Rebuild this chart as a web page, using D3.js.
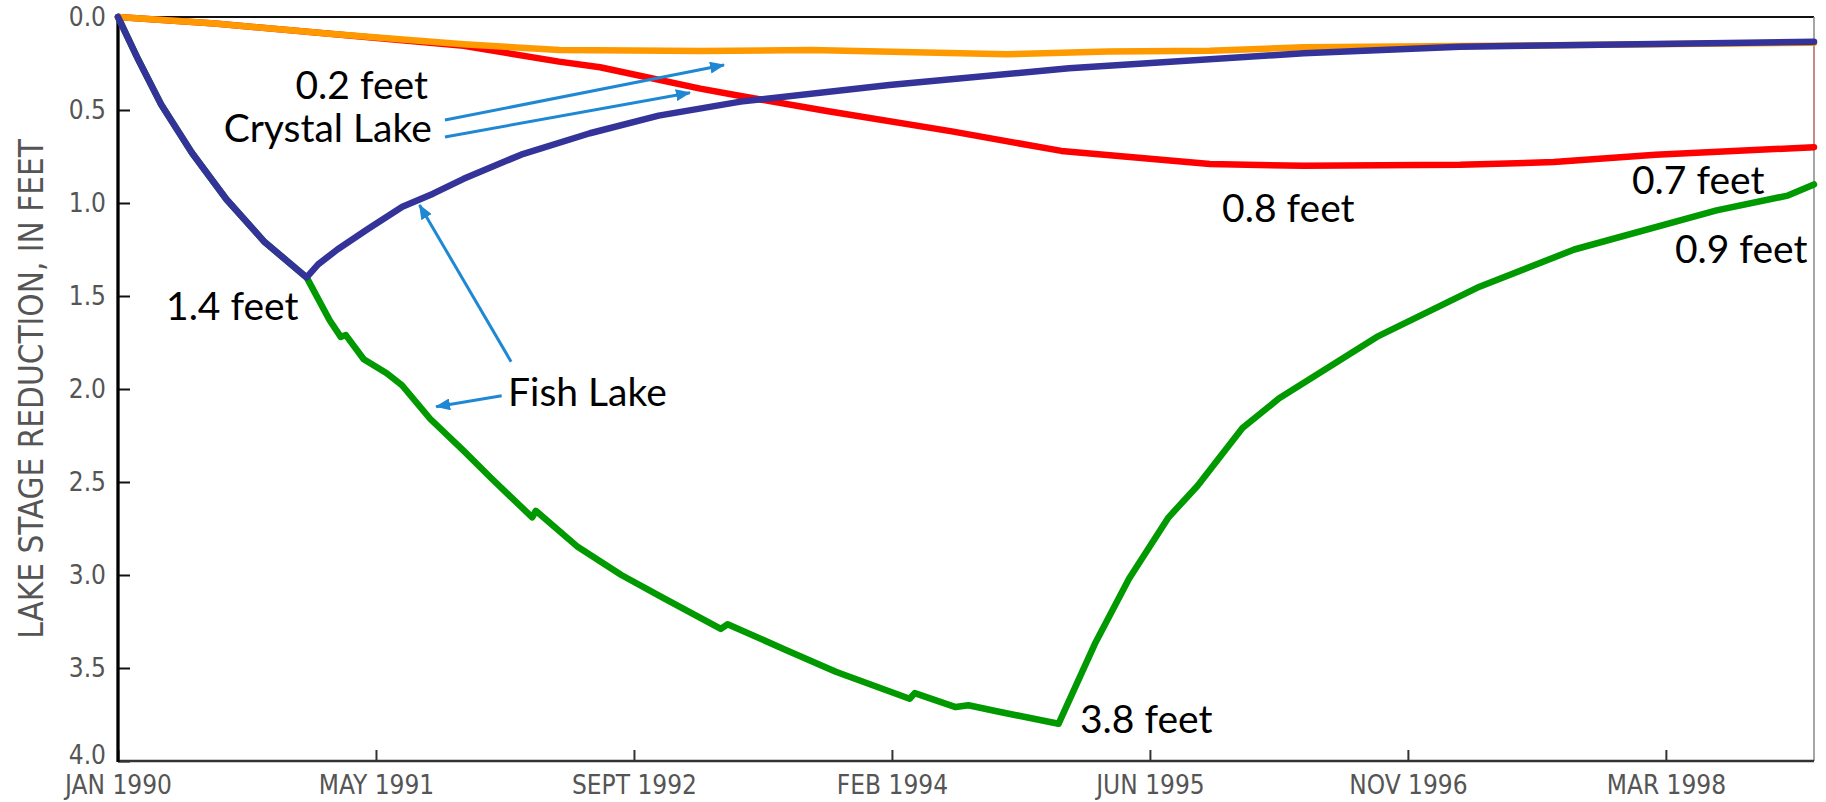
<!DOCTYPE html>
<html>
<head>
<meta charset="utf-8">
<script src="https://cdn.jsdelivr.net/npm/d3@7"></script>
<style>
  html, body { margin: 0; padding: 0; background: #fff; }
  svg { display: block; }
</style>
</head>
<body>
<svg id="chart" width="1826" height="802"></svg>
<script>
// Lake stage reduction (feet) against time (decimal years)

// Fish Lake, first simulation (recovers early)
const fishAYears = [1990.000, 1990.108, 1990.229, 1990.392, 1990.575, 1990.778, 1991.001, 1991.062, 1991.164, 1991.326, 1991.509, 1991.672, 1991.834, 1992.139, 1992.504, 1992.869, 1993.304, 1994.093, 1995.047, 1996.292, 1997.122, 1998.159, 1999.000];
const fishAFeet  = [0, 0.23, 0.47, 0.73, 0.98, 1.21, 1.40, 1.33, 1.25, 1.14, 1.02, 0.95, 0.87, 0.74, 0.625, 0.53, 0.455, 0.366, 0.276, 0.195, 0.16, 0.145, 0.133];

// Fish Lake, second simulation (continued drawdown)
const fishBYears = [1990.000, 1990.108, 1990.229, 1990.392, 1990.575, 1990.778, 1991.001, 1991.123, 1991.182, 1991.209, 1991.304, 1991.426, 1991.507, 1991.656, 1991.832, 1991.981, 1992.198, 1992.217, 1992.441, 1992.671, 1992.888, 1993.199, 1993.235, 1993.538, 1993.809, 1994.201, 1994.228, 1994.445, 1994.513, 1994.675, 1994.991, 1995.184, 1995.365, 1995.575, 1995.729, 1995.967, 1996.162, 1996.680, 1997.225, 1997.728, 1998.483, 1998.861, 1999.000];
const fishBFeet  = [0, 0.23, 0.47, 0.73, 0.98, 1.21, 1.40, 1.63, 1.72, 1.71, 1.84, 1.915, 1.98, 2.16, 2.33, 2.48, 2.69, 2.655, 2.85, 3.0, 3.12, 3.29, 3.265, 3.40, 3.52, 3.665, 3.635, 3.71, 3.70, 3.735, 3.80, 3.37, 3.02, 2.69, 2.52, 2.21, 2.05, 1.72, 1.45, 1.25, 1.04, 0.96, 0.90];

// Crystal Lake, first simulation
const crystalAYears = [1990.000, 1990.514, 1991.123, 1991.834, 1992.342, 1993.097, 1993.678, 1994.716, 1995.254, 1995.794, 1996.292, 1997.122, 1999.000];
const crystalAFeet  = [0, 0.035, 0.09, 0.147, 0.177, 0.183, 0.177, 0.20, 0.186, 0.181, 0.163, 0.156, 0.138];

// Crystal Lake, second simulation
const crystalBYears = [1990.000, 1990.514, 1991.123, 1991.834, 1992.340, 1992.558, 1993.090, 1993.304, 1993.761, 1994.425, 1995.006, 1995.794, 1996.292, 1997.122, 1997.620, 1998.159, 1999.000];
const crystalBFeet  = [0, 0.035, 0.09, 0.155, 0.24, 0.27, 0.385, 0.425, 0.505, 0.615, 0.72, 0.79, 0.80, 0.795, 0.78, 0.74, 0.70];

// Axis ticks (500-day spacing from Jan 1990)
const xTickYears  = [1990.000, 1991.369, 1992.738, 1994.107, 1995.476, 1996.845, 1998.214];
const xTickLabels = ["JAN 1990", "MAY 1991", "SEPT 1992", "FEB 1994", "JUN 1995", "NOV 1996", "MAR 1998"];
const yTickValues = [0, 0.5, 1.0, 1.5, 2.0, 2.5, 3.0, 3.5, 4.0];

// Callout text, placed in data units
const noteTexts  = ["0.2 feet", "Crystal Lake", "1.4 feet", "Fish Lake", "0.8 feet", "0.7 feet", "0.9 feet", "3.8 feet"];
const noteYears  = [1991.645, 1991.665, 1990.255, 1992.070, 1995.859, 1998.034, 1998.262, 1995.105];
const noteFeet   = [0.442, 0.670, 1.629, 2.090, 1.100, 0.953, 1.324, 3.851];
const noteAnchor = ["end", "end", "start", "start", "start", "start", "start", "start"];

// Callout arrows: tail -> head, in data units
const arrowFromYears = [1991.735, 1991.735, 1992.086, 1992.036];
const arrowFromFeet  = [0.554, 0.645, 1.853, 2.036];
const arrowToYears   = [1993.216, 1993.035, 1991.600, 1991.688];
const arrowToFeet    = [0.258, 0.407, 1.011, 2.095];

const svg = d3.select("#chart");
svg.append("rect").attr("width", 1826).attr("height", 802).attr("fill", "#fff");

const x = d3.scaleLinear().domain([1990, 1999]).range([118, 1814]);
const y = d3.scaleLinear().domain([0, 4]).range([17, 761]);

const axisFont = "'Liberation Sans Narrow', 'Arial Narrow', 'DejaVu Sans Condensed', sans-serif";
const noteFont = "Lato, 'Open Sans', sans-serif";

// Frame: top and right borders
svg.append("line").attr("x1", x(1990)).attr("x2", x(1999)).attr("y1", y(0)).attr("y2", y(0))
  .attr("stroke", "#111").attr("stroke-width", 2);
svg.append("line").attr("x1", x(1999)).attr("x2", x(1999)).attr("y1", y(0)).attr("y2", y(4))
  .attr("stroke", "#888").attr("stroke-width", 1.5);

// Y axis (ticks point inward)
const yAxis = d3.axisLeft(y).tickValues(yTickValues).tickFormat(d3.format(".1f"))
  .tickSizeInner(-12).tickSizeOuter(0).tickPadding(12);
const gy = svg.append("g").attr("transform", `translate(${x(1990)},0)`).call(yAxis);
gy.select(".domain").remove();
gy.selectAll(".tick line").attr("stroke", "#111").attr("stroke-width", 2);
gy.selectAll(".tick text").attr("font-family", axisFont).attr("font-size", 26)
  .attr("fill", "#555")
  // the bottom label sits a little above its tick, clear of the date labels
  .attr("y", d => d === 4 ? -6 : 0);

// X axis (ticks point inward)
const xAxis = d3.axisBottom(x).tickValues(xTickYears).tickFormat((d, i) => xTickLabels[i])
  .tickSizeInner(-11).tickSizeOuter(0).tickPadding(15);
const gx = svg.append("g").attr("transform", `translate(0,${y(4)})`).call(xAxis);
gx.select(".domain").remove();
gx.selectAll(".tick line").attr("stroke", "#333").attr("stroke-width", 2);
gx.selectAll(".tick text").attr("font-family", axisFont).attr("font-size", 26)
  .attr("fill", "#555");

// Axis lines
svg.append("line").attr("x1", x(1990)).attr("x2", x(1999)).attr("y1", y(4)).attr("y2", y(4))
  .attr("stroke", "#333").attr("stroke-width", 2.5);
svg.append("line").attr("x1", x(1990)).attr("x2", x(1990)).attr("y1", y(0) - 1).attr("y2", y(4) + 1)
  .attr("stroke", "#000").attr("stroke-width", 3.3);

// Y axis title
svg.append("text")
  .attr("transform", `translate(43,${(y(0) + y(4)) / 2}) rotate(-90)`)
  .attr("text-anchor", "middle")
  .attr("font-family", axisFont).attr("font-size", 33).attr("fill", "#555")
  .text("LAKE STAGE REDUCTION, IN FEET");

// Series
const line = d3.line().x(d => x(d[0])).y(d => y(d[1]));
const zipSeries = (ts, vs) => ts.map((t, i) => [t, vs[i]]);

const series = [
  { pts: zipSeries(fishBYears, fishBFeet), color: "#009900" },
  { pts: zipSeries(crystalBYears, crystalBFeet), color: "#ff0000" },
  { pts: zipSeries(crystalAYears, crystalAFeet), color: "#ff9900" },
  { pts: zipSeries(fishAYears, fishAFeet), color: "#333399" }
];

// faint closing stroke of the red trace at the right edge
svg.append("line")
  .attr("x1", x(1999)).attr("x2", x(1999))
  .attr("y1", y(crystalBFeet[crystalBFeet.length - 1])).attr("y2", y(fishAFeet[fishAFeet.length - 1]))
  .attr("stroke", "#f07070").attr("stroke-width", 1.5).attr("opacity", 0.7);

svg.append("g").selectAll("path").data(series).join("path")
  .attr("d", d => line(d.pts))
  .attr("fill", "none")
  .attr("stroke", d => d.color)
  .attr("stroke-width", 6.5)
  .attr("stroke-linejoin", "round")
  .attr("stroke-linecap", "round");

// Arrowhead marker
const arrowColor = "#1f88d4";
svg.append("defs").append("marker")
  .attr("id", "head")
  .attr("viewBox", "0 -6 15 12")
  .attr("refX", 14).attr("refY", 0)
  .attr("markerWidth", 15).attr("markerHeight", 12)
  .attr("markerUnits", "userSpaceOnUse")
  .attr("orient", "auto")
  .append("path").attr("d", "M0,-6L15,0L0,6Z").attr("fill", arrowColor);

svg.append("g").selectAll("line").data(arrowFromYears).join("line")
  .attr("x1", (d, i) => x(arrowFromYears[i]))
  .attr("y1", (d, i) => y(arrowFromFeet[i]))
  .attr("x2", (d, i) => x(arrowToYears[i]))
  .attr("y2", (d, i) => y(arrowToFeet[i]))
  .attr("stroke", arrowColor).attr("stroke-width", 3)
  .attr("marker-end", "url(#head)");

// Callout labels
svg.append("g").selectAll("text").data(noteTexts).join("text")
  .attr("x", (d, i) => x(noteYears[i]))
  .attr("y", (d, i) => y(noteFeet[i]))
  .attr("text-anchor", (d, i) => noteAnchor[i])
  .attr("font-family", noteFont).attr("font-size", 39).attr("fill", "#000")
  .text(d => d);
</script>
</body>
</html>
